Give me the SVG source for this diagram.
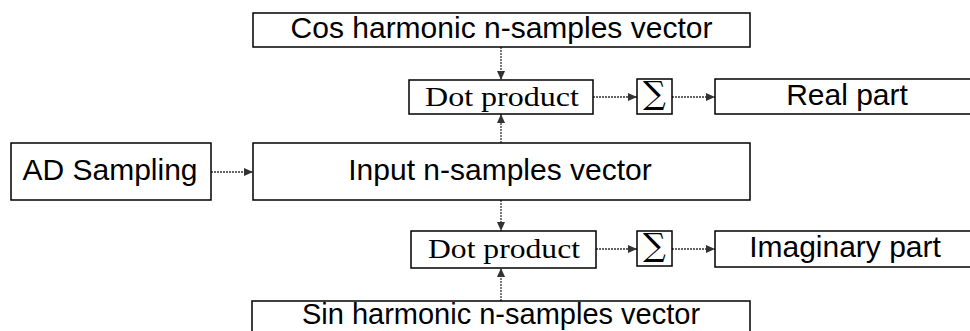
<svg xmlns="http://www.w3.org/2000/svg" width="970" height="331" viewBox="0 0 970 331">
<style>
.box{fill:#fff;stroke:#000;stroke-width:1.5}
.t{font-family:"Liberation Sans",Arial,sans-serif;font-size:30px;fill:#000;text-anchor:middle}
.s{font-family:"Liberation Serif","Times New Roman",serif;font-size:28px;fill:#000;text-anchor:middle}
.sig{font-family:"DejaVu Serif",serif;font-size:32px;fill:#000;text-anchor:middle}
.c{stroke:#333;stroke-width:1.3;stroke-dasharray:2 1;fill:none;marker-end:url(#ah)}
</style>
<defs>
<marker id="ah" markerWidth="10" markerHeight="10" refX="9" refY="5" orient="auto" markerUnits="userSpaceOnUse">
<path d="M0,1 L9,5 L0,9 Z" fill="#333"/>
</marker>
</defs>
<rect width="970" height="331" fill="#fff"/>
<g id="connectors">
<line class="c" x1="501" y1="47" x2="501" y2="80"/>
<line class="c" x1="501" y1="143" x2="501" y2="114"/>
<line class="c" x1="501" y1="200" x2="501" y2="231"/>
<line class="c" x1="501" y1="301" x2="501" y2="268"/>
<line class="c" x1="211" y1="172" x2="253" y2="172"/>
<line class="c" x1="593" y1="97" x2="637" y2="97"/>
<line class="c" x1="672" y1="97" x2="715" y2="97"/>
<line class="c" x1="596" y1="249" x2="637" y2="249"/>
<line class="c" x1="672" y1="249" x2="715" y2="249"/>
</g>
<g id="cos">
<rect class="box" x="253" y="13" width="497" height="34"/>
<text class="t" x="501.5" y="38">Cos harmonic n-samples vector</text>
</g>
<g id="dot1">
<rect class="box" x="409" y="80" width="184" height="34"/>
<text class="s" x="502" y="106" textLength="154" lengthAdjust="spacingAndGlyphs">Dot product</text>
</g>
<g id="sum1">
<rect class="box" x="637" y="79" width="35" height="35"/>
<text class="sig" x="654.5" y="104">∑</text>
</g>
<g id="real">
<rect class="box" x="715" y="79" width="265" height="35"/>
<text class="t" x="847" y="105">Real part</text>
</g>
<g id="ad">
<rect class="box" x="11" y="143" width="200" height="57"/>
<text class="t" x="110" y="180">AD Sampling</text>
</g>
<g id="input">
<rect class="box" x="253" y="143" width="497" height="57"/>
<text class="t" x="500" y="180">Input n-samples vector</text>
</g>
<g id="dot2">
<rect class="box" x="411" y="231" width="185" height="37"/>
<text class="s" x="504" y="258" textLength="152" lengthAdjust="spacingAndGlyphs">Dot product</text>
</g>
<g id="sum2">
<rect class="box" x="637" y="231" width="35" height="35"/>
<text class="sig" x="654.5" y="256">∑</text>
</g>
<g id="imag">
<rect class="box" x="715" y="231" width="265" height="36"/>
<text class="t" x="845" y="257">Imaginary part</text>
</g>
<g id="sin">
<rect class="box" x="252" y="301" width="498" height="45"/>
<text class="t" x="501" y="324" style="font-size:29px">Sin harmonic n-samples vector</text>
</g>
</svg>
